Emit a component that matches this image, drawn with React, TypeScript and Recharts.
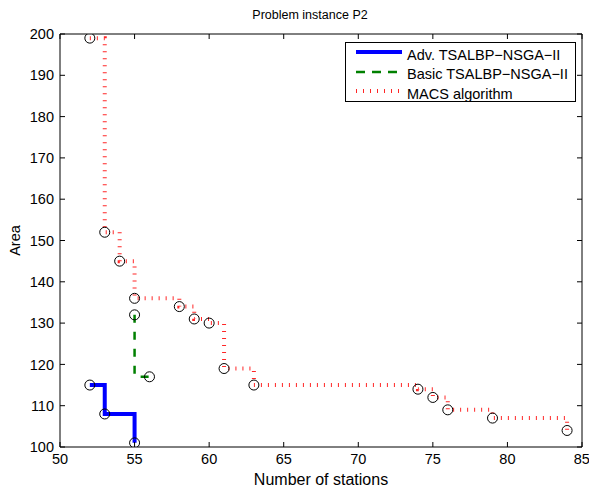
import React from 'react';
import { LineChart, Line, XAxis, YAxis, Legend } from 'recharts';

const advStations = [52, 53, 55];
const advArea = [115, 108, 101];
const basicStations = [55, 56];
const basicArea = [132, 117];
const macsStations = [52, 53, 54, 55, 58, 59, 60, 61, 63, 74, 75, 76, 79, 84];
const macsArea = [199, 152, 145, 136, 134, 131, 130, 119, 115, 114, 112, 109, 107, 104];
const xTicks = [50, 55, 60, 65, 70, 75, 80, 85];
const yTicks = [100, 110, 120, 130, 140, 150, 160, 170, 180, 190, 200];
const seriesNames = ['Adv. TSALBP\u2212NSGA\u2212II', 'Basic TSALBP\u2212NSGA\u2212II', 'MACS algorithm'];
const titleText = 'Problem instance P2';
const xLabel = 'Number of stations';
const yLabel = 'Area';

const FONT = '"Liberation Sans", Arial, Helvetica, sans-serif';

const toRows = (xs: number[], ys: number[]) => xs.map((x, i) => ({ x, y: ys[i] }));
const advData = toRows(advStations, advArea);
const basicData = toRows(basicStations, basicArea);
const macsData = toRows(macsStations, macsArea);

const CircleDot = (props: any) => {
  const { cx, cy, index } = props;
  if (cx == null || cy == null) return <g key={`d-${index}`} />;
  return <circle key={`d-${index}-${cx}`} cx={cx} cy={cy} r={5} fill="none" stroke="#000" strokeWidth={1} strokeDasharray="none" />;
};

const legendSamples = [
  { stroke: '#0000ff', width: 4, dash: undefined as string | undefined, opacity: 1 },
  { stroke: '#008000', width: 2.5, dash: '9 7', opacity: 1 },
  { stroke: '#ff0000', width: 4, dash: '1 6', opacity: 0.85 },
];

const LegendContent = () => (
  <div
    style={{
      width: 231,
      height: 60,
      boxSizing: 'border-box',
      border: '1px solid #000',
      background: '#fff',
      fontFamily: FONT,
      fontSize: 14.5,
      color: '#000',
      paddingTop: 2,
      overflow: 'visible',
    }}
  >
    {seriesNames.map((name, i) => {
      const s = legendSamples[i];
      return (
        <div key={name} style={{ height: 19.5, display: 'flex', alignItems: 'center', whiteSpace: 'nowrap' }}>
          <svg width={46} height={10} style={{ marginLeft: 10, flex: 'none', position: 'relative', top: -2.5 }}>
            <line x1={0} y1={5} x2={46} y2={5} stroke={s.stroke} strokeOpacity={s.opacity} strokeWidth={s.width} strokeDasharray={s.dash} />
          </svg>
          <span style={{ marginLeft: 5 }}>{name}</span>
        </div>
      );
    })}
  </div>
);

export default function App() {
  return (
    <div style={{ position: 'absolute', left: 0, top: 0, width: 589, height: 487, background: '#fff' }}>
      <LineChart
        width={589}
        height={487}
        margin={{ top: 4, right: 2, bottom: 0, left: 0 }}
        style={{ fontFamily: FONT }}
      >
        <XAxis
          dataKey="x"
          type="number"
          domain={[50, 85]}
          ticks={xTicks}
          allowDataOverflow
          height={40}
          stroke="#000"
          tickSize={-5}
          tickMargin={12}
          tick={{ fill: '#000', fontSize: 14.5, fontFamily: FONT }}
          label={{
            content: (p: any) => (
              <text x={p.viewBox.x + p.viewBox.width / 2} y={485} textAnchor="middle" fontSize={16} fontFamily={FONT} fill="#000">
                {xLabel}
              </text>
            ),
          }}
        />
        <XAxis
          xAxisId="top"
          orientation="top"
          dataKey="x"
          type="number"
          domain={[50, 85]}
          ticks={xTicks}
          allowDataOverflow
          height={30}
          stroke="#000"
          tickSize={-5}
          tickFormatter={() => ''}
          label={{
            content: () => (
              <text x={310} y={19} textAnchor="middle" fontSize={12.5} fontFamily={FONT} fill="#000">
                {titleText}
              </text>
            ),
          }}
        />
        <YAxis
          dataKey="y"
          type="number"
          domain={[100, 200]}
          ticks={yTicks}
          allowDataOverflow
          width={60}
          stroke="#000"
          tickSize={-5}
          tickMargin={11}
          tick={{ fill: '#000', fontSize: 14.5, fontFamily: FONT }}
          label={{
            content: (p: any) => {
              const cx = 20;
              const cy = p.viewBox.y + p.viewBox.height / 2;
              return (
                <text x={cx} y={cy} textAnchor="middle" fontSize={14.5} fontFamily={FONT} fill="#000" transform={`rotate(-90 ${cx} ${cy})`}>
                  {yLabel}
                </text>
              );
            },
          }}
        />
        <YAxis
          yAxisId="right"
          orientation="right"
          dataKey="y"
          type="number"
          domain={[100, 200]}
          ticks={yTicks}
          allowDataOverflow
          width={5}
          stroke="#000"
          tickSize={-5}
          tickFormatter={() => ''}
        />
        <Legend
          layout="vertical"
          verticalAlign="middle"
          align="center"
          content={<LegendContent />}
          wrapperStyle={{ left: 345, top: 42, width: 231, height: 60 }}
        />
        <Line
          name={seriesNames[0]}
          data={advData}
          dataKey="y"
          type="stepAfter"
          stroke="#0000ff"
          strokeWidth={4}
          dot={CircleDot}
          activeDot={false}
          isAnimationActive={false}
        />
        <Line
          name={seriesNames[1]}
          data={basicData}
          dataKey="y"
          type="stepBefore"
          stroke="#008000"
          strokeWidth={2.5}
          strokeDasharray="8 9"
          dot={CircleDot}
          activeDot={false}
          isAnimationActive={false}
        />
        <Line
          name={seriesNames[2]}
          data={macsData}
          dataKey="y"
          type="stepAfter"
          stroke="#ff0000"
          strokeOpacity={0.85}
          strokeWidth={4}
          strokeDasharray="1 6"
          dot={CircleDot}
          activeDot={false}
          isAnimationActive={false}
        />
      </LineChart>
    </div>
  );
}
